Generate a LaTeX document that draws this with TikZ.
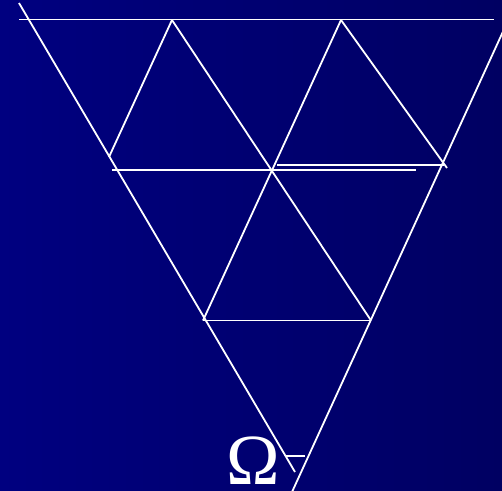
\documentclass[tikz,border=0pt]{standalone}
\usepackage{fontspec}
\setmainfont{Liberation Serif}
\definecolor{bgleft}{RGB}{0,0,128}
\definecolor{bgright}{RGB}{0,0,98}
\tikzset{
  wline/.style={draw=white, line width=1.8pt},
  omegatext/.style={text=white, inner sep=0pt, anchor=base, font=\fontsize{72}{72}\selectfont}
}
\begin{document}
\begin{tikzpicture}[x=1pt,y=-1pt]
\useasboundingbox (0,0) rectangle (502,490);
\shade[left color=bgleft, right color=bgright] (0,0) rectangle (502,490);
\begin{scope}
\clip (0,0) rectangle (502,490);
% named points
\coordinate (TL) at (19,3);
\coordinate (LB) at (295,472);
\coordinate (RT) at (506,25);
\coordinate (RB) at (292,492);
\coordinate (H1a) at (19,19.5);
\coordinate (H1b) at (494,19.5);
\coordinate (A1) at (172,20);
\coordinate (A2) at (341,20);
\coordinate (C) at (271,170);
\coordinate (LF) at (109,157);
\coordinate (RF) at (447,168);
\coordinate (V1) at (203,320.5);
\coordinate (V2) at (371,320.5);
\coordinate (H2a) at (112,170);
\coordinate (H2b) at (416,170);
\coordinate (H3a) at (277,165);
\coordinate (H3b) at (444,165);
\coordinate (Ta) at (285,456);
\coordinate (Tb) at (305,456);
% lines
\draw[wline] (TL) -- (LB);
\draw[wline] (RT) -- (RB);
\draw[wline] (H1a) -- (H1b);
\draw[wline] (A1) -- (LF);
\draw[wline] (A1) -- (V2);
\draw[wline] (A2) -- (V1);
\draw[wline] (A2) -- (RF);
\draw[wline] (H2a) -- (H2b);
\draw[wline] (H3a) -- (H3b);
\draw[wline] (V1) -- (V2);
\draw[wline, line width=1.2pt] (Ta) -- (Tb);
\end{scope}
\node[omegatext] (omega) at (253,484) {Ω};
\end{tikzpicture}
\end{document}
